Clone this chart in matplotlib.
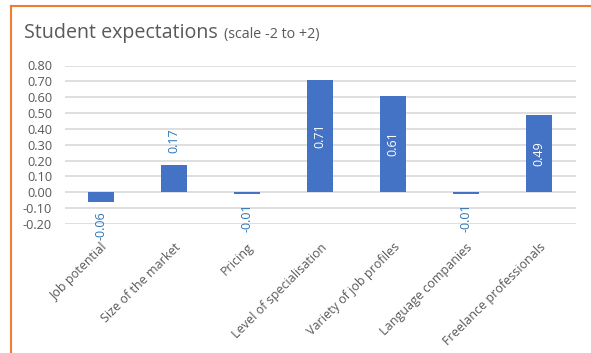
import matplotlib
matplotlib.use("Agg")
import matplotlib.pyplot as plt
from matplotlib.lines import Line2D

categories = ["Job potential", "Size of the market", "Pricing",
              "Level of specialisation", "Variety of job profiles",
              "Language companies", "Freelance professionals"]
values = [-0.06, 0.17, -0.01, 0.71, 0.61, -0.01, 0.49]
yticks = [-0.20, -0.10, 0.00, 0.10, 0.20, 0.30, 0.40, 0.50, 0.60, 0.70, 0.80]

plt.rcParams['font.family'] = ['Open Sans', 'DejaVu Sans']

BAR = "#4472C4"
GRID = "#D9D9D9"
TEXT = "#595959"
LABEL_OUT = "#2E75B6"

fig = plt.figure(figsize=(5.91, 3.53), dpi=100)
ax = fig.add_axes([64.5 / 591, 1 - 224 / 353, 511 / 591, (224 - 65.5) / 353])

x = list(range(len(categories)))
ax.bar(x, values, width=0.36, color=BAR, zorder=3)
ax.set_xlim(-0.5, len(categories) - 0.5)
ax.set_ylim(-0.20, 0.80)
ax.set_yticks(yticks)
ax.set_yticklabels([f"{t:.2f}" for t in yticks], color=TEXT, fontsize=9.2)
ax.yaxis.grid(True, color=GRID, linewidth=1.2, zorder=0)
ax.set_axisbelow(True)
for s in ax.spines.values():
    s.set_visible(False)
ax.tick_params(axis='both', length=0)
ax.tick_params(axis='y', pad=9)
ax.set_xticks(x)
ax.set_xticklabels(categories, rotation=45, ha='right', rotation_mode='anchor',
                   color=TEXT, fontsize=9)
ax.tick_params(axis='x', pad=12)

# data labels: centred in tall bars, outside the end of short ones
for xi, v in zip(x, values):
    txt = f"{v:.2f}"
    if v >= 0.3:
        ax.text(xi, v / 2, txt, rotation=90, ha='center', va='center',
                color='white', fontsize=9, zorder=4)
    elif v >= 0:
        ax.annotate(txt, (xi, v), xytext=(0, 9), textcoords='offset points',
                    rotation=90, ha='center', va='bottom', color=LABEL_OUT,
                    fontsize=9, zorder=4)
    else:
        ax.annotate(txt, (xi, v), xytext=(0, -7), textcoords='offset points',
                    rotation=90, ha='center', va='top', color=LABEL_OUT,
                    fontsize=9, zorder=4)

title = fig.text(24 / 591, 1 - 38 / 353, "Student expectations", fontsize=14.1,
                 color=TEXT, va='baseline', ha='left')
fig.canvas.draw()
tb = title.get_window_extent()
fig.text((tb.x1 + 6) / fig.bbox.width, 1 - 38 / 353, "(scale -2 to +2)",
         fontsize=10.3, color=TEXT, va='baseline', ha='left')

# frame edges along the top and left
fig.add_artist(Line2D([11 / 591, 1], [1 - 5.5 / 353, 1 - 5.5 / 353],
                      color="#ED7D31", linewidth=1.5, transform=fig.transFigure))
fig.add_artist(Line2D([11 / 591, 11 / 591], [0, 1 - 5.5 / 353],
                      color="#ED7D31", linewidth=1.5, transform=fig.transFigure))

fig.savefig("out.png", dpi=100)
